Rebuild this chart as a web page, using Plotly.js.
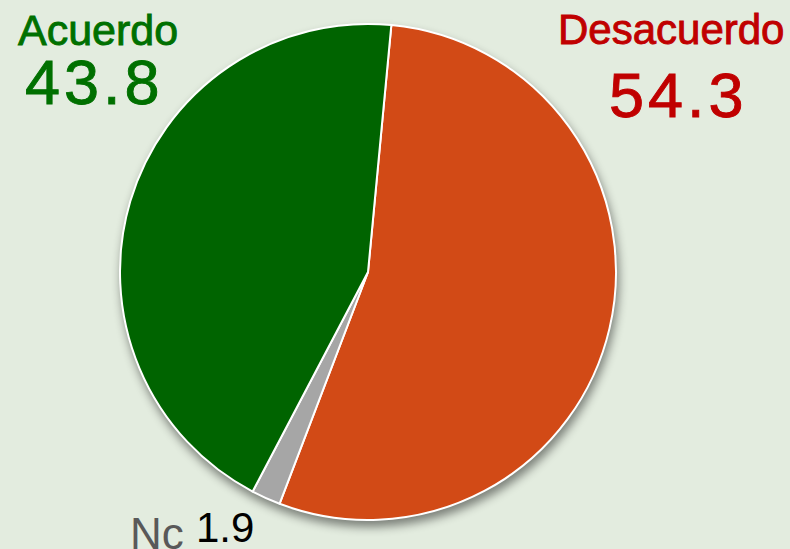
<!DOCTYPE html>
<html>
<head>
<meta charset="utf-8">
<script src="https://cdn.plot.ly/plotly-3.0.1.min.js"></script>
<style>
  html, body { margin: 0; padding: 0; background: #e3ecdf; }
  #chart { width: 790px; height: 549px; }
  .pielayer { filter: drop-shadow(2px 6px 5px rgba(0,0,0,0.45)); }
  g.annotation[data-index="1"] text, g.annotation[data-index="3"] text { letter-spacing: 4px; }
  g.annotation[data-index="0"] text, g.annotation[data-index="1"] text { stroke: #007000; stroke-width: 0.9px; }
  g.annotation[data-index="2"] text, g.annotation[data-index="3"] text { stroke: #c00000; stroke-width: 0.9px; }
</style>
</head>
<body>
<div id="chart"></div>
<script>
var categories = ["Desacuerdo", "Nc", "Acuerdo"];
var values = [54.3, 1.9, 43.8];
var sliceColors = ["#d24a16", "#a6a6a6", "#006400"];
var valueLabels = ["54.3", "1.9", "43.8"];

var W = 790, H = 549;
var cx = 368, cy = 272, r = 248;

var trace = {
  type: "pie",
  labels: categories,
  values: values,
  sort: false,
  direction: "clockwise",
  rotation: 5.4,
  textinfo: "none",
  hoverinfo: "label+value",
  marker: { colors: sliceColors, line: { color: "#ffffff", width: 2 } },
  domain: { x: [(cx - r) / W, (cx + r) / W], y: [(H - cy - r) / H, (H - cy + r) / H] }
};

function ann(text, x, y, size, color) {
  return {
    text: text, xref: "paper", yref: "paper",
    x: x / W, y: 1 - y / H, xanchor: "center", yanchor: "middle",
    showarrow: false,
    font: { family: "Liberation Sans, Arial, sans-serif", size: size, color: color }
  };
}

var layout = {
  width: W, height: H,
  margin: { l: 0, r: 0, t: 0, b: 0 },
  paper_bgcolor: "#e3ecdf",
  plot_bgcolor: "#e3ecdf",
  showlegend: false,
  annotations: [
    ann(categories[2], 98, 30, 43, "#007000"),
    ann(valueLabels[2], 94, 82, 63, "#007000"),
    ann(categories[0], 671, 30, 42, "#c00000"),
    ann(valueLabels[0], 678, 95, 63, "#c00000"),
    ann(categories[1], 157, 533, 44, "#595959"),
    ann(valueLabels[1], 225, 527, 42, "#000000")
  ]
};

Plotly.newPlot("chart", [trace], layout, { staticPlot: true });
</script>
</body>
</html>
